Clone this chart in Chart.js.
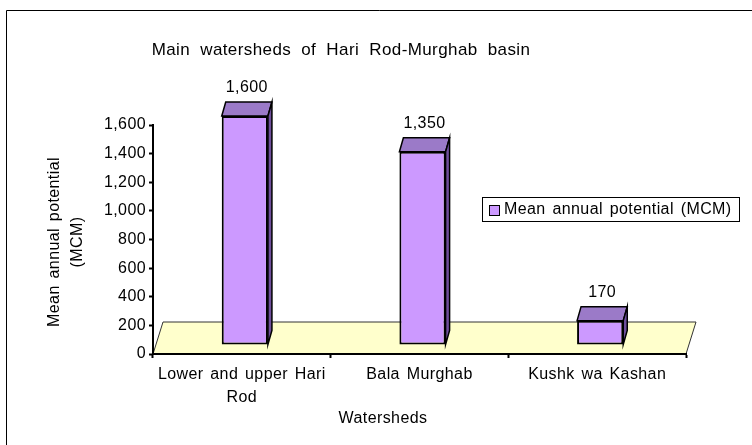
<!DOCTYPE html>
<html>
<head>
<meta charset="utf-8">
<script src="https://cdn.jsdelivr.net/npm/chart.js@4.4.1/dist/chart.umd.min.js"></script>
<style>
  html, body { margin: 0; padding: 0; background: #fff; }
  canvas { display: block; }
</style>
</head>
<body>
<canvas id="chart" width="752" height="445"></canvas>
<script>
const watersheds = [['Lower and upper Hari', 'Rod'], 'Bala Murghab', 'Kushk wa Kashan'];
const meanPotential = [1600, 1350, 170];
const seriesName = 'Mean annual potential (MCM)';
const chartTitle = 'Main watersheds of Hari Rod-Murghab basin';
const yTitle = ['Mean annual potential', '(MCM)'];
const xTitle = 'Watersheds';
const yMax = 1600, yStep = 200;

const FONT = '"Liberation Sans", Arial, sans-serif';
const FRONT = '#cc99ff', TOP = '#9b7ac8', SIDE = '#6f4f9c', FLOOR = '#ffffcc';
const DEPTH = { dx: 4, dy: -14 };       // depth of each bar
const SHIFT = { dx: 3, dy: -9 };        // front faces sit a bit off the axis
const FLOOR_DEPTH = { dx: 10, dy: -32 };

function textStyle(ctx, size, word) {
    ctx.font = size + 'px ' + FONT;
    ctx.letterSpacing = '0.4px';
    ctx.wordSpacing = (word || 2) + 'px';
}

function drawText(ctx, txt, x, y, size, align, word) {
    ctx.save();
    textStyle(ctx, size, word);
    ctx.fillStyle = '#000';
    ctx.textAlign = align || 'center';
    ctx.textBaseline = 'middle';
    ctx.fillText(txt, x, y);
    ctx.restore();
}

const excel3d = {
    id: 'excel3d',
    beforeLayout(chart) { textStyle(chart.ctx, 16); },
    beforeDraw(chart) {
        const ctx = chart.ctx;
        textStyle(ctx, 16);
        const xs = chart.scales.x, ys = chart.scales.y;
        const y0 = ys.getPixelForValue(0);
        ctx.save();
        // outer frame (only top and left show)
        ctx.strokeStyle = '#000';
        ctx.lineWidth = 1;
        ctx.beginPath();
        ctx.moveTo(6.5, 445); ctx.lineTo(6.5, 10.5); ctx.lineTo(752, 10.5);
        ctx.stroke();
        // floor
        ctx.beginPath();
        ctx.moveTo(xs.left, y0);
        ctx.lineTo(xs.right, y0);
        ctx.lineTo(xs.right + FLOOR_DEPTH.dx, y0 + FLOOR_DEPTH.dy);
        ctx.lineTo(xs.left + FLOOR_DEPTH.dx, y0 + FLOOR_DEPTH.dy);
        ctx.closePath();
        ctx.fillStyle = FLOOR;
        ctx.fill();
        ctx.strokeStyle = '#333';
        ctx.stroke();
        ctx.restore();
    },
    beforeDatasetsDraw(chart) {
        const ctx = chart.ctx;
        ctx.save();
        ctx.translate(SHIFT.dx, SHIFT.dy);
        ctx.strokeStyle = '#000';
        ctx.lineWidth = 1.5;
        chart.getDatasetMeta(0).data.forEach(bar => {
            const p = bar.getProps(['x', 'y', 'base', 'width'], true);
            const l = p.x - p.width / 2, r = p.x + p.width / 2;
            // top face
            ctx.beginPath();
            ctx.moveTo(l, p.y); ctx.lineTo(r, p.y);
            ctx.lineTo(r + DEPTH.dx, p.y + DEPTH.dy); ctx.lineTo(l + DEPTH.dx, p.y + DEPTH.dy);
            ctx.closePath();
            ctx.fillStyle = TOP; ctx.fill(); ctx.stroke();
            // side face
            ctx.beginPath();
            ctx.moveTo(r, p.y); ctx.lineTo(r + DEPTH.dx, p.y + DEPTH.dy);
            ctx.lineTo(r + DEPTH.dx, p.base + DEPTH.dy); ctx.lineTo(r, p.base);
            ctx.closePath();
            ctx.fillStyle = SIDE; ctx.fill(); ctx.stroke();
        });
    },
    afterDatasetsDraw(chart) {
        const ctx = chart.ctx;
        ctx.restore();
        // value labels
        const ds = chart.data.datasets[0];
        chart.getDatasetMeta(0).data.forEach((bar, i) => {
            const p = bar.getProps(['x', 'y'], true);
            drawText(ctx, ds.data[i].toLocaleString('en-US'),
                p.x + SHIFT.dx + DEPTH.dx / 2, p.y + SHIFT.dy + DEPTH.dy - 14, 16);
        });
        // legend
        ctx.save();
        ctx.fillStyle = '#fff';
        ctx.fillRect(482, 197, 257, 24);
        ctx.strokeStyle = '#000';
        ctx.lineWidth = 1;
        ctx.strokeRect(482.5, 197.5, 257, 24);
        ctx.fillStyle = ds.backgroundColor;
        ctx.fillRect(489.5, 205.5, 10, 10);
        ctx.strokeRect(489.5, 205.5, 10, 10);
        ctx.restore();
        drawText(ctx, ds.label, 504, 210, 16, 'left');
        // titles
        drawText(ctx, chartTitle, 341, 50, 17, 'center', 5);
        drawText(ctx, xTitle, 383, 419, 16);
        yTitle.forEach((t, i) => {
            ctx.save();
            ctx.translate(55 + i * 23, 242);
            ctx.rotate(-Math.PI / 2);
            drawText(ctx, t, 0, 0, 16);
            ctx.restore();
        });
    }
};

new Chart(document.getElementById('chart'), {
    type: 'bar',
    data: {
        labels: watersheds,
        datasets: [{
            label: seriesName,
            data: meanPotential,
            backgroundColor: FRONT,
            borderColor: '#000',
            borderWidth: 2,
            borderSkipped: false,
            categoryPercentage: 1,
            barPercentage: 0.26
        }]
    },
    options: {
        responsive: false,
        animation: false,
        locale: 'en-US',
        layout: { padding: { top: 125, right: 66, bottom: 0, left: 0 } },
        plugins: {
            legend: { display: false },
            title: { display: false },
            tooltip: { enabled: false }
        },
        scales: {
            x: {
                afterFit(scale) { scale.height = 91; },
                border: { display: true, color: '#000', width: 2 },
                grid: { display: true, drawOnChartArea: false, drawTicks: true, tickLength: 4,
                        tickWidth: 2, tickColor: '#000', offset: true },
                ticks: { color: '#000', padding: 5, maxRotation: 0, autoSkip: false,
                         font: { family: FONT, size: 16, lineHeight: 1.45 } }
            },
            y: {
                min: 0,
                max: yMax,
                afterFit(scale) { scale.width = 153; },
                border: { display: true, color: '#000', width: 2 },
                grid: { display: true, drawOnChartArea: false, drawTicks: true, tickLength: 4,
                        tickWidth: 2, tickColor: '#000' },
                ticks: { stepSize: yStep, color: '#000', padding: 3,
                         font: { family: FONT, size: 16 } }
            }
        }
    },
    plugins: [excel3d]
});
</script>
</body>
</html>
